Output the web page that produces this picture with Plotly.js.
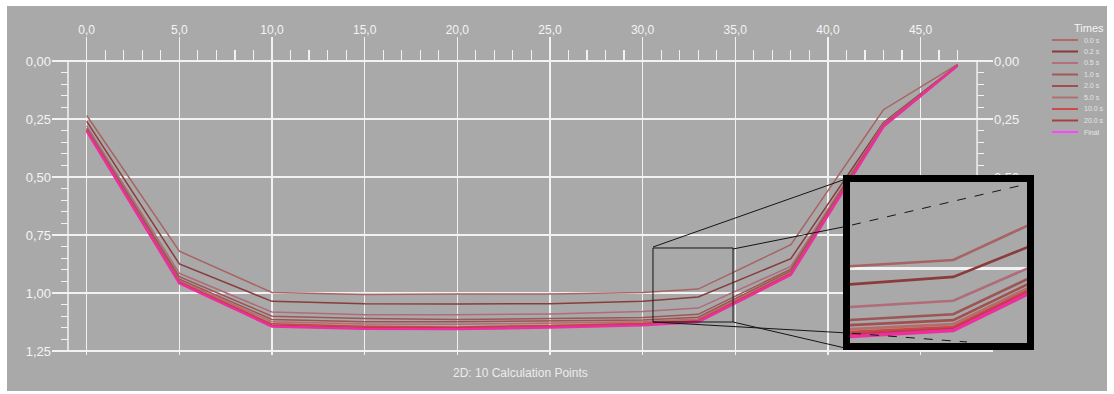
<!DOCTYPE html>
<html><head><meta charset="utf-8">
<script src="https://cdn.plot.ly/plotly-3.0.1.min.js"></script>
<style>
html,body{margin:0;padding:0;background:#fff;width:1114px;height:394px;overflow:hidden}
#chart{position:absolute;left:7px;top:6px;width:1100px;height:385px}
</style>
</head><body><div id="chart"></div>
<script>
// ---- data ----
const seriesNames = ['0.0 s','0.2 s','0.5 s','1.0 s','2.0 s','5.0 s','10.0 s','20.0 s','Final'];
const calcPoints = [0, 5, 10, 15, 20, 25, 30, 33, 38, 43, 47];
const depth_00s  = [0.235, 0.820, 0.998, 1.006, 1.004, 1.004, 0.998, 0.983, 0.792, 0.210, 0.015];
const depth_02s  = [0.260, 0.875, 1.036, 1.046, 1.047, 1.046, 1.035, 1.017, 0.852, 0.265, 0.018];
const depth_05s  = [0.280, 0.915, 1.082, 1.094, 1.094, 1.090, 1.080, 1.065, 0.885, 0.270, 0.020];
const depth_10s  = [0.290, 0.930, 1.100, 1.110, 1.114, 1.110, 1.106, 1.092, 0.897, 0.275, 0.020];
const depth_20s  = [0.295, 0.940, 1.114, 1.124, 1.124, 1.120, 1.116, 1.104, 0.905, 0.278, 0.020];
const depth_50s  = [0.298, 0.947, 1.124, 1.134, 1.135, 1.130, 1.124, 1.112, 0.912, 0.280, 0.020];
const depth_100s = [0.300, 0.952, 1.133, 1.143, 1.146, 1.140, 1.130, 1.118, 0.916, 0.281, 0.020];
const depth_200s = [0.300, 0.955, 1.139, 1.149, 1.150, 1.145, 1.135, 1.122, 0.920, 0.282, 0.020];
const depth_final= [0.302, 0.958, 1.144, 1.154, 1.155, 1.149, 1.139, 1.125, 0.922, 0.283, 0.020];
const allDepths = [depth_00s, depth_02s, depth_05s, depth_10s, depth_20s, depth_50s, depth_100s, depth_200s, depth_final];
const seriesColors = ['#a86464','#8a3c3c','#b06c78','#9c5656','#a05050','#b46c6c','#cc4444','#b03c48','#ee2d9e'];
const legendColors = ['#b06a6a','#8a3838','#b07080','#a05a5a','#9e5050','#b07070','#d04848','#a84040','#ff44ff'];
const xTickStep = 5;
const yTickStep = 0.25;
const minorXTicks = [1,2,3,4,6,7,8,9,11,12,13,14,16,17,18,19,21,22,23,24,26,27,28,29,31,32,33,34,36,37,38,39,41,42,43,44,46,47];
const minorYTicks = [0.05,0.10,0.15,0.20,0.30,0.35,0.40,0.45,0.55,0.60,0.65,0.70,0.80,0.85,0.90,0.95,1.05,1.10,1.15,1.20];
const rightLabelTicks = [0, 0.25, 0.5, 0.75, 1.0];
const bottomTitle = '2D: 10 Calculation Points';
const legendTitle = 'Times';

// ---- geometry helpers (plot area: page x 52..1040, y 37..355) ----
const PL = 52, PW = 988, PT = 37, PH = 318;
const px = v => (v - PL) / PW;
const py = v => 1 - (v - PT) / PH;

const BG = '#a9a9a9';
const GRID = '#f2f2f2';
const TXT = '#f4f4f4';
const FONT = '"Liberation Sans", Arial, sans-serif';
const xRange = [-1.873, 48.91];
const yRange = [1.2672, -0.1034];

const traces = [];
// invisible carriers so that the overlaying tick/label axes get drawn
[['x3','y'],['x','y4'],['x','y5'],['x','y6']].forEach(([xa, ya]) => {
  traces.push({x: calcPoints, y: depth_final, type:'scatter', mode:'lines', xaxis:xa, yaxis:ya,
    line:{color:'rgba(0,0,0,0)', width:0}, opacity:0, showlegend:false, hoverinfo:'skip'});
});
allDepths.forEach((d, i) => {
  const isFinal = i === allDepths.length - 1;
  traces.push({x: calcPoints, y: d, type: 'scatter', mode: 'lines', name: seriesNames[i],
    xaxis: 'x', yaxis: 'y', line: {color: seriesColors[i], width: isFinal ? 2.5 : 1.5},
    showlegend: false, hoverinfo: 'skip'});
});
allDepths.forEach((d, i) => {
  const isFinal = i === allDepths.length - 1;
  traces.push({x: calcPoints, y: d, type: 'scatter', mode: 'lines', name: seriesNames[i],
    xaxis: 'x2', yaxis: 'y2', line: {color: seriesColors[i], width: isFinal ? 3.5 : 2.6},
    showlegend: false, hoverinfo: 'skip'});
});

const shapes = [];
const annotations = [];
// left / right axis lines
shapes.push({type:'line', xref:'x', yref:'y', x0:-1.009, x1:-1.009, y0:0, y1:1.25, line:{color:GRID, width:1.5}, layer:'below'});
shapes.push({type:'line', xref:'x', yref:'y', x0:48.05, x1:48.05, y0:0, y1:1.25, line:{color:GRID, width:1.5}, layer:'below'});
// zoom box on the main plot
shapes.push({type:'rect', xref:'x', yref:'y', x0:30.56, x1:34.88, y0:0.806, y1:1.125, line:{color:'#151515', width:1}});
// connector lines
const blk = '#151515';
shapes.push({type:'line', xref:'paper', yref:'paper', x0:px(653), y0:py(247), x1:px(843), y1:py(180), line:{color:blk, width:1}});
shapes.push({type:'line', xref:'paper', yref:'paper', x0:px(733), y0:py(249), x1:px(848), y1:py(226), line:{color:blk, width:1}});
shapes.push({type:'line', xref:'paper', yref:'paper', x0:px(852), y0:py(225), x1:px(1027), y1:py(184), line:{color:blk, width:1, dash:'dash'}});
shapes.push({type:'line', xref:'paper', yref:'paper', x0:px(653), y0:py(322), x1:px(848), y1:py(333), line:{color:blk, width:1}});
shapes.push({type:'line', xref:'paper', yref:'paper', x0:px(852), y0:py(333.3), x1:px(967), y1:py(342), line:{color:blk, width:1, dash:'dash'}});
shapes.push({type:'line', xref:'paper', yref:'paper', x0:px(733), y0:py(322), x1:px(845), y1:py(348), line:{color:blk, width:1}});
// inset border
shapes.push({type:'rect', xref:'paper', yref:'paper', x0:px(846.5), x1:px(1030.5), y0:py(346.5), y1:py(178.5), line:{color:'#000', width:7}});

// manual legend
annotations.push({xref:'paper', yref:'paper', x:px(1106), y:py(28), xanchor:'right', yanchor:'middle',
  text: legendTitle, showarrow:false, font:{family:FONT, size:11, color:TXT}});
seriesNames.forEach((n, i) => {
  const yy = 40 + 11.5 * i;
  shapes.push({type:'line', xref:'paper', yref:'paper', x0:px(1052), x1:px(1078), y0:py(yy), y1:py(yy),
    line:{color:legendColors[i], width:2}});
  annotations.push({xref:'paper', yref:'paper', x:px(1082), y:py(yy), xanchor:'left', yanchor:'middle',
    text:n, showarrow:false, font:{family:FONT, size:7, color:'#e6e6e6'}});
});
// bottom title
annotations.push({xref:'paper', yref:'paper', x:px(520), y:py(373), xanchor:'center', yanchor:'middle',
  text: bottomTitle, showarrow:false, font:{family:FONT, size:12, color:'#ececec'}});

const layout = {
  width: 1100, height: 385,
  margin: {l:45, r:67, t:31, b:36, pad:0},
  paper_bgcolor: BG, plot_bgcolor: BG,
  separators: ',.',
  showlegend: false,
  font: {family: FONT, color: TXT, size: 12},
  xaxis: {domain:[0, 941/988], range:xRange, side:'top', tick0:0, dtick:xTickStep, tickformat:'.1f',
    showgrid:true, gridcolor:GRID, gridwidth:1.5, zeroline:false, showline:false, ticks:'',
    tickfont:{size:12, color:TXT}, fixedrange:true},
  yaxis: {domain:[0,1], range:yRange, tick0:0, dtick:yTickStep, tickformat:'.2f',
    showgrid:true, gridcolor:GRID, gridwidth:2, zeroline:false, showline:false, ticks:'',
    tickfont:{size:13, color:TXT}, fixedrange:true},
  yaxis4: {overlaying:'y', side:'right', anchor:'x', range:yRange, tickmode:'array', tickvals:rightLabelTicks,
    tickformat:'.2f', showgrid:false, zeroline:false, showline:false, ticks:'', tickfont:{size:13, color:TXT}},
  xaxis3: {overlaying:'x', anchor:'free', position:py(61), side:'top', range:xRange, tickmode:'array',
    tickvals:minorXTicks, ticks:'outside', ticklen:11, tickwidth:1.2, tickcolor:GRID,
    showticklabels:false, showgrid:false, zeroline:false, showline:false},
  yaxis5: {overlaying:'y', anchor:'free', position:px(68), side:'left', range:yRange, tickmode:'array',
    tickvals:minorYTicks, ticks:'outside', ticklen:7, tickwidth:1.2, tickcolor:GRID,
    showticklabels:false, showgrid:false, zeroline:false, showline:false},
  yaxis6: {overlaying:'y', anchor:'free', position:px(977), side:'right', range:yRange, tickmode:'array',
    tickvals:minorYTicks, ticks:'outside', ticklen:6, tickwidth:1.2, tickcolor:GRID,
    showticklabels:false, showgrid:false, zeroline:false, showline:false},
  xaxis2: {domain:[px(850), px(1027)], anchor:'y2', range:[30.48, 34.8], showgrid:false, zeroline:false,
    showline:false, ticks:'', showticklabels:false},
  yaxis2: {domain:[py(343), py(182)], anchor:'x2', range:[1.15, 0.826], tickmode:'array', tickvals:[1.0],
    showgrid:true, gridcolor:GRID, gridwidth:3, zeroline:false, showline:false, ticks:'', showticklabels:false},
  shapes: shapes,
  annotations: annotations
};

Plotly.newPlot('chart', traces, layout, {displayModeBar:false, staticPlot:true});
</script>
</body></html>
